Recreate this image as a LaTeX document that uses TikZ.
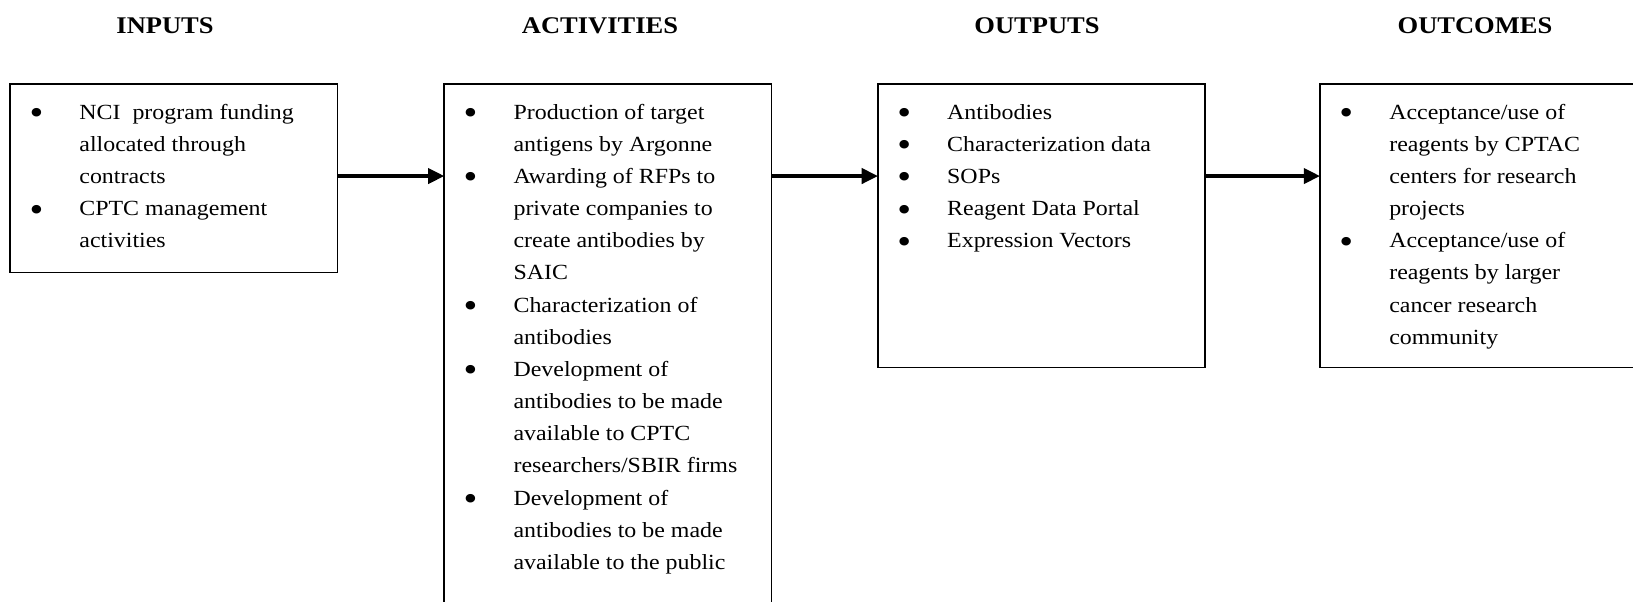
\documentclass[tikz,border=0pt]{standalone}
\usepackage{fontspec}
\setmainfont[FakeStretch=1.107]{Liberation Serif}
\usetikzlibrary{arrows.meta}

\tikzset{
  box/.style={draw, line width=0.9pt, anchor=north west, inner sep=0pt, outer sep=0pt, minimum width=181.8pt},
  head/.style={anchor=base, font=\fontsize{13.3}{16}\selectfont\bfseries},
  items/.style={anchor=base west, inner sep=0pt, font=\fontsize{12}{17.87}\selectfont},
  flow/.style={line width=1.8pt, -{Triangle[length=9pt,width=8.5pt]}}
}
\newcommand{\blist}[1]{\parbox[t]{170pt}{\raggedright\parindent=0pt\parskip=0pt #1}}
\newcommand{\bitem}{\par\noindent\llap{\raisebox{-3pt}{\scalebox{1.65}{\textbullet}}\hspace{20pt}}}

\begin{document}
\begin{tikzpicture}[x=1pt,y=-1pt]
  \useasboundingbox (0,0) rectangle (907.2,334.4);
  \clip (0,0) rectangle (907.2,334.4);

  \node[head] (inputs-head) at (91.7,18.5) {INPUTS};
  \node[head] (activities-head) at (333.3,18.5) {ACTIVITIES};
  \node[head] (outputs-head) at (576.1,18.5) {OUTPUTS};
  \node[head] (outcomes-head) at (819.4,18.5) {OUTCOMES};

  \node[box, minimum height=104.5pt] (inputs) at (5.6,46.8) {};
  \node[box, minimum height=300pt] (activities) at (246.8,46.8) {};
  \node[box, minimum height=157.3pt] (outputs) at (487.7,46.8) {};
  \node[box, minimum height=157.3pt] (outcomes) at (733.3,46.8) {};

  \node[items] (inputs-items) at ([shift={(38.3pt,-19.4pt)}]inputs.north west) {\blist{%
    \bitem NCI~ program funding\\allocated through\\contracts
    \bitem CPTC management\\activities}};
  \node[items] (activities-items) at ([shift={(38.3pt,-19.4pt)}]activities.north west) {\blist{%
    \bitem Production of target\\antigens by Argonne
    \bitem Awarding of RFPs to\\private companies to\\create antibodies by\\SAIC
    \bitem Characterization of\\antibodies
    \bitem Development of\\antibodies to be made\\available to CPTC\\researchers/SBIR firms
    \bitem Development of\\antibodies to be made\\available to the public}};
  \node[items] (outputs-items) at ([shift={(38.3pt,-19.4pt)}]outputs.north west) {\blist{%
    \bitem Antibodies
    \bitem Characterization data
    \bitem SOPs
    \bitem Reagent Data Portal
    \bitem Expression Vectors}};
  \node[items] (outcomes-items) at ([shift={(38.3pt,-19.4pt)}]outcomes.north west) {\blist{%
    \bitem Acceptance/use of\\reagents by CPTAC\\centers for research\\projects
    \bitem Acceptance/use of\\reagents by larger\\cancer research\\community}};

  \coordinate (level) at (0,97.8);
  \draw[flow] (inputs.east |- level) -- (activities.west |- level);
  \draw[flow] (activities.east |- level) -- (outputs.west |- level);
  \draw[flow] (outputs.east |- level) -- (outcomes.west |- level);
\end{tikzpicture}
\end{document}
